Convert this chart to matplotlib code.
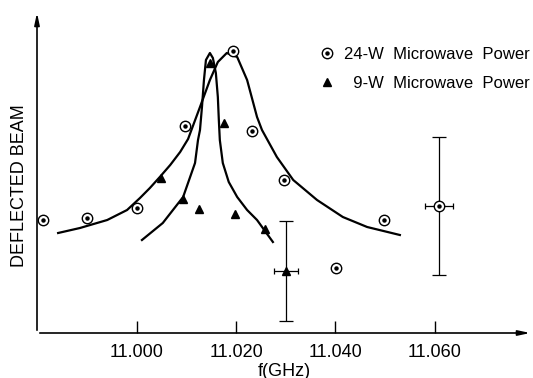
import matplotlib
matplotlib.use("Agg")
import matplotlib.pyplot as plt
from matplotlib.lines import Line2D

plt.rcParams['font.family'] = ['Liberation Sans', 'DejaVu Sans']

# 24-W microwave power points (f in GHz, deflected beam in arbitrary units)
f24 = [10.9810, 10.9899, 11.0000, 11.0097, 11.0194, 11.0232, 11.0296, 11.0401, 11.0498]
b24 = [113, 115, 125, 207, 282, 202, 153, 65, 113]
# 24-W point with error bars
f24_err, b24_err = 11.0609, 127
f24_dx, b24_dy = 0.0028, 69

# 9-W microwave power points
f9 = [11.0147, 11.0176, 11.0048, 11.0093, 11.0125, 11.0198, 11.0258]
b9 = [270, 210, 155, 134, 124, 119, 104]
f9_err, b9_err = 11.0300, 62
f9_dx, b9_dy = 0.0024, 50

# hand-drawn curves
curve24_f = [10.9841, 10.9885, 10.9940, 10.9980, 11.0006, 11.0026, 11.0046, 11.0067,
             11.0087, 11.0103, 11.0127, 11.0147, 11.0163, 11.0181, 11.0202, 11.0222,
             11.0242, 11.0252, 11.0282, 11.0315, 11.0363, 11.0415, 11.0464, 11.0530]
curve24_b = [100, 105, 113, 123, 135, 145, 156, 168, 181, 194, 226, 253, 271, 280, 276,
             253, 216, 203, 176, 153, 133, 116, 106, 98]
curve9_f = [11.0010, 11.0052, 11.0093, 11.0117, 11.0123, 11.0127, 11.0131, 11.0135,
            11.0139, 11.0147, 11.0153, 11.0159, 11.0163, 11.0165, 11.0167, 11.0173,
            11.0185, 11.0202, 11.0222, 11.0242, 11.0274]
curve9_b = [93, 110, 136, 170, 193, 203, 226, 253, 273, 280, 275, 260, 236, 213,
            193, 170, 151, 136, 123, 113, 91]

xticks = [11.000, 11.020, 11.040, 11.060]
xticklabels = ['11.000', '11.020', '11.040', '11.060']

fig = plt.figure(figsize=(5.33, 3.78), dpi=100)
ax = fig.add_axes([37 / 533, 45 / 378, 496 / 533, 323 / 378])

ax.plot(curve24_f, curve24_b, 'k-', lw=1.6, solid_joinstyle='round')
ax.plot(curve9_f, curve9_b, 'k-', lw=1.6, solid_joinstyle='round')

# error bars
ax.errorbar(f24_err, b24_err, yerr=b24_dy, fmt='none', ecolor='k', elinewidth=0.9, capsize=5, capthick=0.9)
ax.errorbar(f24_err, b24_err, xerr=f24_dx, fmt='none', ecolor='k', elinewidth=0.9, capsize=2.2, capthick=0.9)
ax.errorbar(f9_err, b9_err, yerr=b9_dy, fmt='none', ecolor='k', elinewidth=0.9, capsize=5, capthick=0.9)
ax.errorbar(f9_err, b9_err, xerr=f9_dx, fmt='none', ecolor='k', elinewidth=0.9, capsize=2.2, capthick=0.9)

circ = dict(marker='o', ms=7.5, mfc='white', mec='k', mew=1.0, ls='none', zorder=4)
dot = dict(marker='o', ms=2.2, mfc='k', mec='k', ls='none', zorder=5)
tri = dict(marker='^', ms=5.5, mfc='k', mec='k', ls='none', zorder=4)

ax.plot(f24 + [f24_err], b24 + [b24_err], **circ)
ax.plot(f24 + [f24_err], b24 + [b24_err], **dot)
ax.plot(f9 + [f9_err], b9 + [b9_err], **tri)

ax.set_xlim(10.97984, 11.07984)
ax.set_ylim(0, 323)

for s in ax.spines.values():
    s.set_visible(False)
ax.annotate('', xy=(1, 0), xytext=(0, 0), xycoords='axes fraction',
            arrowprops=dict(arrowstyle='-|>,head_length=0.7,head_width=0.15', color='k', lw=1.2))
ax.annotate('', xy=(0, 1), xytext=(0, 0), xycoords='axes fraction',
            arrowprops=dict(arrowstyle='-|>,head_length=0.7,head_width=0.15', color='k', lw=1.2))

ax.set_xticks(xticks)
ax.set_xticklabels(xticklabels, fontsize=13)
ax.tick_params(axis='x', direction='in', length=9, width=1, pad=8)
ax.set_yticks([])

fig.text(284 / 533, 1 - 371 / 378, 'f(GHz)', fontsize=13, ha='center', va='center')
fig.text(20 / 533, 1 - 186 / 378, 'DEFLECTED BEAM', fontsize=13, rotation=90,
         ha='center', va='center')

h24 = (Line2D([], [], **circ), Line2D([], [], **dot))
h9 = Line2D([], [], **tri)
ax.legend([h24, h9], ['24-W  Microwave  Power', '\u20079-W  Microwave  Power'],
          loc='upper left', bbox_to_anchor=(319 / 533, 1 - 47 / 378),
          bbox_transform=fig.transFigure, frameon=False, fontsize=12,
          handlelength=1.0, handletextpad=0.5, borderpad=0, borderaxespad=0,
          labelspacing=0.85)

fig.savefig('out.png', dpi=100)
